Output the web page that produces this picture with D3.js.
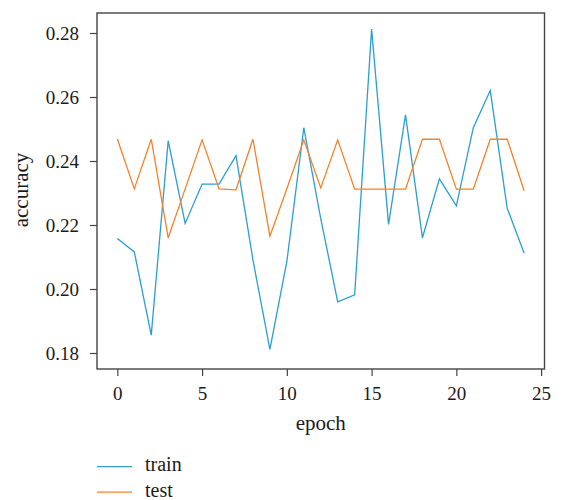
<!DOCTYPE html>
<html><head><meta charset="utf-8">
<script src="https://cdn.jsdelivr.net/npm/d3@7"></script>
<style>body{margin:0;background:#fff}svg{display:block}</style>
</head><body>
<svg id="c" width="563" height="500"></svg>
<script>
const epochs = d3.range(0, 25);
const train = [0.2158,0.2116,0.1856,0.2463,0.2205,0.2328,0.2328,0.2417,0.2091,0.1811,0.2086,0.2504,0.2220,0.1960,0.1982,0.2812,0.2202,0.2544,0.2160,0.2344,0.2260,0.2504,0.2620,0.2252,0.2112];
const test = [0.2469,0.2313,0.2468,0.2160,0.2313,0.2466,0.2313,0.2310,0.2468,0.2165,0.2313,0.2466,0.2316,0.2466,0.2312,0.2312,0.2312,0.2312,0.2468,0.2468,0.2312,0.2312,0.2468,0.2468,0.2307];
const xTicks = [0,5,10,15,20,25];
const yTicks = [0.18,0.20,0.22,0.24,0.26,0.28];
const seriesNames = ["train","test"];
const colors = ["#2a9fd0","#f5822a"];

const svg = d3.select("#c");
const font = "Liberation Serif, DejaVu Serif, serif";
const L=97, R=544.5, T=13, B=369;
const x = d3.scaleLinear().domain([-1.2,25.2]).range([L,R]);
const y = d3.scaleLinear().domain([0.175,0.28625]).range([B,T]);

const line = d3.line().x((d,i)=>x(epochs[i])).y(d=>y(d));
[train,test].forEach((s,k)=>{
  svg.append("path").attr("d",line(s)).attr("fill","none")
    .attr("stroke",colors[k]).attr("stroke-width",1.3).attr("stroke-linejoin","miter");
});

const xa = svg.append("g").attr("transform",`translate(0,${B})`)
  .call(d3.axisBottom(x).tickValues(xTicks).tickSize(7).tickFormat(d3.format("d")));
const ya = svg.append("g").attr("transform",`translate(${L},0)`)
  .call(d3.axisLeft(y).tickValues(yTicks).tickSize(7).tickPadding(11).tickFormat(d3.format(".2f")));
[xa,ya].forEach(a=>{
  a.attr("font-family",font).attr("font-size",19);
  a.select(".domain").remove();
  a.selectAll("line").attr("stroke","#444").attr("stroke-width",1.2);
  a.selectAll("text").attr("fill","#1a1a1a");
});
xa.selectAll("text").attr("y",31).attr("dy",null);

svg.append("rect").attr("x",L).attr("y",T).attr("width",R-L).attr("height",B-T)
  .attr("fill","none").attr("stroke","#444").attr("stroke-width",1.4);

svg.append("text").attr("x",(L+R)/2).attr("y",430).attr("text-anchor","middle")
  .attr("font-family",font).attr("font-size",21).attr("fill","#1a1a1a").text("epoch");
svg.append("text").attr("transform","translate(28,190) rotate(-90)").attr("text-anchor","middle")
  .attr("font-family",font).attr("font-size",21).attr("fill","#1a1a1a").text("accuracy");

seriesNames.forEach((n,k)=>{
  const yy = 466.7 + k*25.4;
  svg.append("line").attr("x1",97).attr("x2",132).attr("y1",yy).attr("y2",yy)
    .attr("stroke",colors[k]).attr("stroke-width",1.3);
  svg.append("text").attr("x",145).attr("y",yy+4.5).attr("font-family",font)
    .attr("font-size",20).attr("fill","#1a1a1a").text(n);
});
</script>
</body></html>
